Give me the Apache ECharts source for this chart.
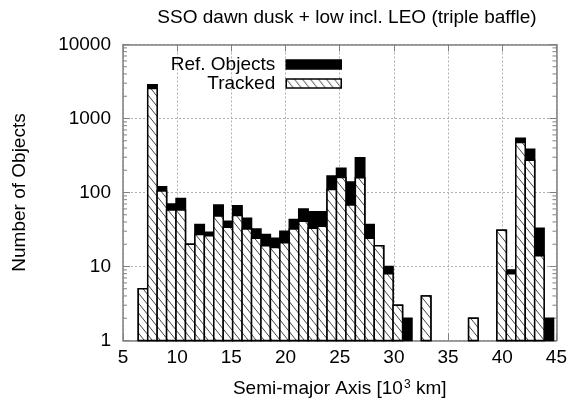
<!DOCTYPE html>
<html>
<head>
<meta charset="utf-8">
<script src="https://cdn.jsdelivr.net/npm/echarts@6/dist/echarts.min.js"></script>
<style>
  html, body { margin: 0; padding: 0; background: #fff; }
  #chart { width: 570px; height: 407px; }
</style>
</head>
<body>
<div id="chart"></div>
<script>
// Histogram of objects per semi-major axis bin (thousand km)
const binStart = 6.41;   // left edge of the first bin
const binWidth = 0.871;  // width of every bin

const refObjects = [5, 2850, 120, 70, 83, 20, 37, 29, 68, 41, 66, 45, 32, 27, 24, 30, 43, 60, 55, 55,
  167, 212, 139, 295, 37, 19, 10, 3, 2, 0, 4, 0, 0, 0, 0, 2, 0, 0, 31, 9, 540, 384, 33, 2];
const tracked = [5, 2550, 105, 58, 58, 20, 27, 26, 48, 34, 49, 32, 24, 19, 18, 21, 32, 41, 33, 35,
  110, 160, 68, 158, 24, 19, 8, 3, 0, 0, 4, 0, 0, 0, 0, 2, 0, 0, 31, 8, 475, 272, 14, 0];

const xTicks = [5, 10, 15, 20, 25, 30, 35, 40, 45];
const yTicks = [1, 10, 100, 1000, 10000];
const yMinorTicks = [];
for (let d = 1; d < 10000; d *= 10) {
  for (let m = 2; m <= 9; m++) yMinorTicks.push(m * d);
}

const FONT = 'Liberation Sans';

// diagonal hatch fill for the tracked bars
function makeHatch() {
  const c = document.createElement('canvas');
  c.width = 8; c.height = 10;
  const g = c.getContext('2d');
  g.fillStyle = '#fff';
  g.fillRect(0, 0, 8, 10);
  g.strokeStyle = '#444';
  g.lineWidth = 1;
  g.beginPath();
  g.moveTo(-8, -10); g.lineTo(16, 20);
  g.moveTo(-16, -10); g.lineTo(8, 20);
  g.moveTo(0, -10); g.lineTo(24, 20);
  g.stroke();
  return { image: c, repeat: 'repeat' };
}
const hatch = makeHatch();

function toBins(values) {
  return values.map((v, i) => [binStart + i * binWidth, binStart + (i + 1) * binWidth, v]);
}

function barRenderer(fill) {
  return function (params, api) {
    const v = api.value(2);
    if (!(v > 0)) return null;
    const p0 = api.coord([api.value(0), v]);
    const p1 = api.coord([api.value(1), 1]);
    return {
      type: 'rect',
      shape: { x: p0[0], y: p0[1], width: p1[0] - p0[0], height: p1[1] - p0[1] },
      style: { fill: fill, stroke: '#000', lineWidth: 1.5 }
    };
  };
}

const chart = echarts.init(document.getElementById('chart'), null, { renderer: 'canvas' });

const axisLineStyle = { color: '#808080', width: 1.5 };
const gridLineStyle = { color: '#b0b0b0', width: 1, type: [2, 2] };

chart.setOption({
  animation: false,
  backgroundColor: '#fff',
  title: {
    text: 'SSO dawn dusk + low incl. LEO (triple baffle)',
    left: 342, top: 3, textAlign: 'center',
    textStyle: { fontFamily: FONT, fontSize: 19, fontWeight: 'normal', color: '#000' }
  },
  legend: {
    orient: 'vertical',
    right: 223, top: 50,
    align: 'right',
    itemWidth: 55, itemHeight: 9, itemGap: 0,
    selectedMode: false,
    textStyle: { fontFamily: FONT, fontSize: 19, color: '#000', lineHeight: 19, padding: [0, 6, 0, 0] },
    data: [
      { name: 'Ref. Objects', icon: 'rect', itemStyle: { color: '#000', borderColor: '#000', borderWidth: 1.5 } },
      { name: 'Tracked', icon: 'rect', itemStyle: { color: hatch, borderColor: '#000', borderWidth: 1.5 } }
    ]
  },
  grid: { left: 123, right: 12.5, top: 44.5, bottom: 66.5, containLabel: false },
  xAxis: [
    {
      type: 'value', min: 5, max: 45, interval: 5, position: 'bottom',
      name: '{a|Semi-major Axis [10}{s|3}{a| km]}',
      nameLocation: 'middle', nameGap: 38,
      nameTextStyle: {
        rich: {
          a: { fontFamily: FONT, fontSize: 19, color: '#000' },
          s: { fontFamily: FONT, fontSize: 12, color: '#000', padding: [0, 0, 9, 1] }
        }
      },
      axisLine: { show: true, onZero: false, lineStyle: axisLineStyle },
      axisTick: { show: true, inside: true, length: 7, lineStyle: { color: '#808080' } },
      axisLabel: { fontFamily: FONT, fontSize: 19, color: '#000', margin: 8 },
      splitLine: { show: true, lineStyle: gridLineStyle }
    },
    {
      type: 'value', min: 5, max: 45, interval: 5, position: 'top',
      axisLine: { show: true, onZero: false, lineStyle: axisLineStyle },
      axisTick: { show: true, inside: true, length: 7, lineStyle: { color: '#808080' } },
      axisLabel: { show: false },
      splitLine: { show: false }
    }
  ],
  yAxis: [
    {
      type: 'log', logBase: 10, min: 1, max: 10000, position: 'left',
      name: 'Number of Objects', nameLocation: 'middle', nameGap: 94,
      nameTextStyle: { fontFamily: FONT, fontSize: 19, color: '#000' },
      axisLine: { show: true, onZero: false, lineStyle: axisLineStyle },
      axisTick: { show: true, inside: true, length: 7, lineStyle: { color: '#808080' } },
      axisLabel: {
        fontFamily: FONT, fontSize: 19, color: '#000', margin: 12,
        formatter: v => String(Math.round(v))
      },
      splitLine: { show: true, lineStyle: gridLineStyle }
    },
    {
      type: 'log', logBase: 10, min: 1, max: 10000, position: 'right',
      axisLine: { show: true, onZero: false, lineStyle: axisLineStyle },
      axisTick: { show: true, inside: true, length: 7, lineStyle: { color: '#808080' } },
      axisLabel: { show: false },
      splitLine: { show: false }
    }
  ],
  series: [
    {
      // minor log ticks on both vertical frame edges
      type: 'custom', name: 'minorTicks', silent: true, z: 1,
      xAxisIndex: 0, yAxisIndex: 0,
      data: yMinorTicks.map(v => [v]),
      encode: { y: 0 },
      renderItem: function (params, api) {
        const cs = params.coordSys;
        const y = api.coord([5, api.value(0)])[1];
        return {
          type: 'group',
          children: [
            { type: 'line', shape: { x1: cs.x, y1: y, x2: cs.x + 4, y2: y }, style: { stroke: '#808080', lineWidth: 1 } },
            { type: 'line', shape: { x1: cs.x + cs.width - 4, y1: y, x2: cs.x + cs.width, y2: y }, style: { stroke: '#808080', lineWidth: 1 } }
          ]
        };
      }
    },
    {
      type: 'custom', name: 'Ref. Objects', z: 3,
      xAxisIndex: 0, yAxisIndex: 0,
      itemStyle: { color: '#000' },
      data: toBins(refObjects),
      encode: { x: [0, 1], y: 2 },
      renderItem: barRenderer('#000')
    },
    {
      type: 'custom', name: 'Tracked', z: 4,
      xAxisIndex: 0, yAxisIndex: 0,
      itemStyle: { color: hatch },
      data: toBins(tracked),
      encode: { x: [0, 1], y: 2 },
      renderItem: barRenderer(hatch)
    }
  ]
});
</script>
</body>
</html>
